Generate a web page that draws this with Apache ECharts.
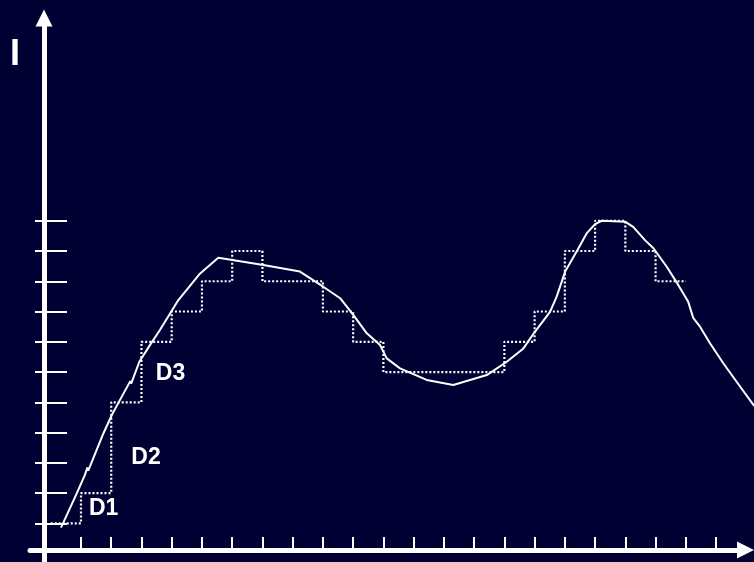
<!DOCTYPE html>
<html>
<head>
<meta charset="utf-8">
<script src="https://cdn.jsdelivr.net/npm/echarts@6/dist/echarts.min.js"></script>
<style>
    html, body { margin: 0; padding: 0; background: #000033; }
    #main { width: 754px; height: 562px; }
</style>
</head>
<body>
<div id="main"></div>
<script>
// 单位：横轴一格 = 1，纵轴一格 = 1
const xTicks = [0, 1, 2, 3, 4, 5, 6, 7, 8, 9, 10, 11, 12, 13, 14, 15, 16, 17, 18, 19, 20, 21];
const yTicks = [1, 2, 3, 4, 5, 6, 7, 8, 9, 10, 11];

// 量化后的阶梯（每段起点 + 电平）
const stepX = [-1, 0, 1, 2, 3, 4, 5, 6, 7, 8, 9, 10, 11, 12, 13, 14, 15, 16, 17, 18, 19, 20];
const stepLevel = [1, 2, 5, 7, 8, 9, 10, 9, 9, 8, 7, 6, 6, 6, 6, 7, 8, 10, 11, 10, 9, 9];

// 原始曲线
const curveX = [-0.66, -0.14, 0.13, 0.21, 0.24, 0.74, 1.02, 1.29, 1.63, 1.66, 1.93, 2.28, 2.61, 3.22, 3.94, 4.54,
    6.03, 7.24, 8.01, 8.57, 9.01, 9.45, 9.89, 10.11, 10.55, 11.43, 12.31, 13.42, 14.08, 14.63, 15.01,
    15.51, 15.73, 16.01, 16.39, 16.72, 17.00, 17.22, 17.99, 18.26, 18.65, 18.93, 19.37, 19.75, 20.08,
    20.25, 20.47, 20.80, 21.24, 21.68, 22.26];
const curveY = [0.86, 1.99, 2.60, 2.84, 2.74, 3.97, 4.58, 5.08, 5.70, 5.62, 6.34, 6.89, 7.39, 8.38, 9.26, 9.78,
    9.54, 9.32, 8.82, 8.44, 7.88, 7.28, 6.89, 6.45, 6.12, 5.74, 5.57, 5.90, 6.34, 6.78, 7.33,
    7.99, 8.49, 9.32, 9.98, 10.58, 10.89, 11.00, 10.97, 10.80, 10.36, 10.09, 9.48, 8.88, 8.32,
    7.78, 7.50, 6.95, 6.29, 5.68, 4.88];

// 标注
const labelNames = ['D1', 'D2', 'D3'];
const labelX = [0.75, 2.15, 2.96];
const labelY = [1.5, 3.17, 5.96];

const white = '#ffffff';
const font = '"Liberation Sans", Arial, sans-serif';

const yMin = -0.2776;
const yMax = 17.70;

const chart = echarts.init(document.getElementById('main'));

chart.setOption({
    animation: false,
    backgroundColor: '#000033',
    title: {
        text: 'I',
        left: 5,
        top: 32,
        textStyle: { color: white, fontSize: 36, fontWeight: 'bold', fontFamily: font }
    },
    grid: [
        { left: 30, right: 8.5, top: 18, bottom: 0 },
        // 曲线用：一直画到右边缘
        { left: 30, right: 0, top: 18, bottom: 0 }
    ],
    xAxis: [
        {
            type: 'value',
            gridIndex: 0,
            min: -1.686,
            max: 21.974,
            position: 'bottom',
            offset: -12, // 横轴画在 y=550
            axisLine: {
                show: true,
                onZero: false,
                symbol: ['none', 'triangle'],
                symbolSize: [17, 17],
                lineStyle: { color: white, width: 5 }
            },
            axisTick: {
                show: true,
                inside: true,
                length: 13,
                customValues: xTicks,
                lineStyle: { color: white, width: 2 }
            },
            axisLabel: { show: false },
            splitLine: { show: false }
        },
        {
            type: 'value',
            gridIndex: 1,
            min: -1.686,
            max: 22.255,
            show: false
        }
    ],
    yAxis: [
        {
            type: 'value',
            gridIndex: 0,
            min: yMin,
            max: yMax,
            position: 'left',
            offset: -14, // 纵轴画在 x=44
            axisLine: {
                show: true,
                onZero: false,
                symbol: ['none', 'triangle'],
                symbolSize: [17, 17],
                lineStyle: { color: white, width: 5 }
            },
            axisTick: {
                show: true,
                length: 9,
                customValues: yTicks,
                lineStyle: { color: white, width: 2 }
            },
            axisLabel: { show: false },
            splitLine: { show: false }
        },
        {
            // 刻度向右伸出的部分
            type: 'value',
            gridIndex: 0,
            min: yMin,
            max: yMax,
            position: 'left',
            offset: -14,
            axisLine: { show: false, onZero: false },
            axisTick: {
                show: true,
                inside: true,
                length: 23,
                customValues: yTicks,
                lineStyle: { color: white, width: 2 }
            },
            axisLabel: { show: false },
            splitLine: { show: false }
        },
        {
            type: 'value',
            gridIndex: 1,
            min: yMin,
            max: yMax,
            show: false
        }
    ],
    series: [
        {
            name: 'steps',
            type: 'line',
            step: 'end',
            symbol: 'none',
            data: stepX.map((x, i) => [x, stepLevel[i]]),
            lineStyle: { color: white, width: 2.2, type: [2, 2] },
            z: 2
        },
        {
            name: 'curve',
            type: 'line',
            xAxisIndex: 1,
            yAxisIndex: 2,
            symbol: 'none',
            data: curveX.map((x, i) => [x, curveY[i]]),
            lineStyle: { color: white, width: 2 },
            z: 3
        },
        {
            name: 'labels',
            type: 'scatter',
            symbolSize: 0,
            itemStyle: { color: 'transparent', opacity: 1 }, // 散点默认 0.8 会让文字发灰
            data: labelNames.map((n, i) => ({ name: n, value: [labelX[i], labelY[i]] })),
            label: {
                show: true,
                position: 'inside',
                formatter: '{b}',
                color: white,
                textBorderWidth: 0,
                fontSize: 23,
                fontWeight: 'bold',
                fontFamily: font
            },
            z: 4
        }
    ]
});

window.addEventListener('resize', () => {
    chart.resize();
});
</script>
</body>
</html>
